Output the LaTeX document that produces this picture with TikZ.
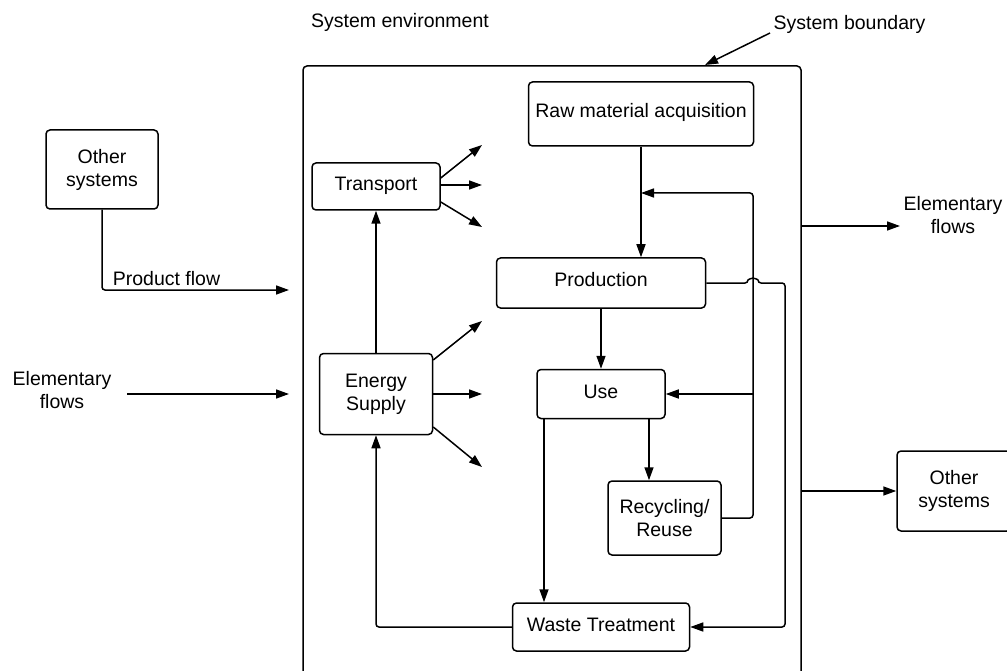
\documentclass[tikz,border=0pt]{standalone}
\usepackage{fontspec}
\setmainfont{Liberation Sans}
\usetikzlibrary{arrows.meta,calc}
\begin{document}
\begin{tikzpicture}[x=1pt,y=-1pt,
  every node/.style={font=\fontsize{19.5}{23}\selectfont, inner sep=0pt},
  box/.style={draw, line width=1.5pt, rounded corners=4pt, align=center},
  oneline/.style={text height=14pt, text depth=6pt},
  conn/.style={line width=1.5pt, rounded corners=3pt, -{Triangle[length=13pt,width=9pt]}},
  wire/.style={line width=1.5pt}
]
% canvas
\useasboundingbox (0,0) rectangle (1007,671);
\clip (0,0) rectangle (1007,671);
\fill[white] (0,0) rectangle (1007,671);

% system boundary (open towards the bottom)
\draw[wire, rounded corners=4pt] (303,690) -- (303,66) -- (801,66) -- (801,690);

% labels outside the boundary
\node[anchor=base] (envT) at (400,28) {System environment};
\node[anchor=base] (bndT) at (849.5,30) {System boundary};
\node[align=center] (elL) at (62,390) {Elementary\\flows};
\node[align=center] (elR) at (953,215) {Elementary\\flows};
\node[anchor=base] (pfT) at (166.5,285) {Product flow};

% process boxes
\node[box, minimum width=112pt, minimum height=79pt] (othL) at (102,169.5) {Other\\systems};
\node[box, oneline, minimum width=128pt, minimum height=47pt] (trans) at (376,186.5) {Transport};
\node[box, minimum width=113pt, minimum height=81pt] (energy) at (376,394) {Energy\\Supply};
\node[box, oneline, minimum width=225pt, minimum height=64pt] (raw) at (641,114) {Raw material acquisition};
\node[box, oneline, minimum width=209pt, minimum height=50pt] (prod) at (601,283) {Production};
\node[box, oneline, minimum width=128pt, minimum height=49pt] (use) at (601,394) {Use};
\node[box, minimum width=113pt, minimum height=74pt] (recyc) at (664.5,518) {Recycling/\\Reuse};
\node[box, oneline, minimum width=177pt, minimum height=48pt] (waste) at (601,627) {Waste Treatment};
\node[box, minimum width=114pt, minimum height=80pt] (othR) at (954,491) {Other\\systems};

% free ends of connectors
\coordinate (sbA) at (770,33);
\coordinate (sbB) at (705,65);
\coordinate (pfEnd) at (289,290);
\coordinate (elLa) at (127,394);
\coordinate (elLb) at (289,394);
\coordinate (fanX) at (482,0);
\coordinate (t1) at (482,145);
\coordinate (t3) at (482,227);
\coordinate (e1) at (482,321);
\coordinate (e3) at (482,467);
\coordinate (rTop) at (753,193);
\coordinate (pRight) at (785,283);
\coordinate (bR1) at (801,226);
\coordinate (elREnd) at (900,226);
\coordinate (bR2) at (801,491);
\coordinate (uw) at ($(use.south)+(-57,0)$);
\coordinate (ur) at ($(use.south)+(48,0)$);

% boundary pointer
\draw[conn] (sbA) -- (sbB);

% inputs from the environment
\draw[conn] (othL.south) |- (pfEnd);
\draw[conn] (elLa) -- (elLb);

% transport and energy
\draw[conn] (energy.north) -- (energy.north |- trans.south);
\draw[conn] ([yshift=8.5pt]trans.east) -- (t1);
\draw[conn] ([yshift=1.5pt]trans.east) -- ([yshift=1.5pt]trans.east -| fanX);
\draw[conn] ([yshift=-15.5pt]trans.east) -- (t3);
\draw[conn] ([yshift=34pt]energy.east) -- (e1);
\draw[conn] (energy.east) -- (energy.east -| fanX);
\draw[conn] ([yshift=-33pt]energy.east) -- (e3);

% life cycle chain
\draw[conn] (raw.south) -- (raw.south |- prod.north);
\draw[conn] (prod.south) -- (use.north);
\draw[conn] (ur) -- (ur |- recyc.north);
\draw[conn] (uw) -- (uw |- waste.north);

% recycling loop back to production and use
\draw[conn] (recyc.east) -| (rTop) -- (rTop -| raw.south);
\draw[conn] (rTop |- use.east) -- (use.east);

% production residues to waste treatment, hopping over the loop
\draw[conn] (prod.east) -- ($(prod.east -| rTop)+(-5,0)$)
  arc[start angle=180, end angle=0, radius=5pt]
  -- (pRight) |- (waste.east);

% waste treatment back to energy supply
\draw[conn] (waste.west) -| (energy.south);

% outputs to the environment
\draw[conn] (bR1) -- (elREnd);
\draw[conn] (bR2) -- (othR.west);
\end{tikzpicture}
\end{document}
